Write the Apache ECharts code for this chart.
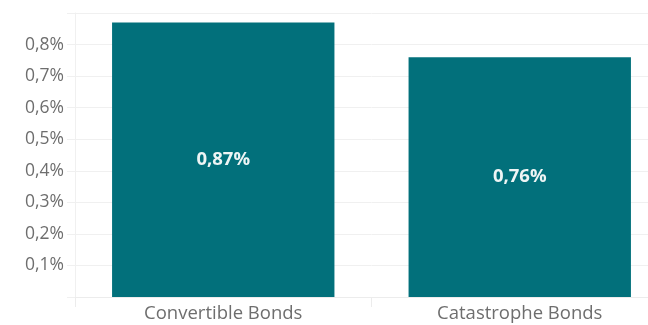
<!DOCTYPE html>
<html>
<head>
<meta charset="utf-8">
<script src="https://cdn.jsdelivr.net/npm/echarts@6/dist/echarts.min.js"></script>
<style>
html,body{margin:0;padding:0;background:#fff;overflow:hidden;width:648px;height:325px;}
#c{width:668px;height:325px;}
</style>
</head>
<body>
<div id="c"></div>
<script>
const categories = ["Convertible Bonds", "Catastrophe Bonds"];
const values = [0.87, 0.76];
const yMin = 0, yMax = 0.9, yStep = 0.1;

const fmt = v => v.toFixed(2).replace('.', ',') + '%';
const chart = echarts.init(document.getElementById('c'));
chart.setOption({
  animation: false,
  grid: {left: 75, right: 0, top: 13, bottom: 28, containLabel: false},
  xAxis: {
    type: 'category',
    data: categories,
    axisLine: {show: true, lineStyle: {color: '#ececec'}},
    axisTick: {show: true, length: 10, lineStyle: {color: '#ececec'}},
    axisLabel: {color: '#6e6e6e', fontFamily: 'Open Sans', fontSize: 18.5, margin: 7}
  },
  yAxis: {
    type: 'value',
    min: yMin, max: yMax, interval: yStep,
    axisLine: {show: true, lineStyle: {color: '#f0f0f0'}},
    axisTick: {show: true, length: 8, lineStyle: {color: '#f0f0f0'}},
    splitLine: {show: true, lineStyle: {color: '#f0f0f0'}},
    axisLabel: {
      color: '#6e6e6e', fontFamily: 'Open Sans', fontSize: 17.5, margin: 11,
      formatter: v => (v <= 0.0001 || v >= 0.8999) ? '' : (Math.round(v * 10) / 10).toFixed(1).replace('.', ',') + '%'
    }
  },
  series: [{
    type: 'bar',
    data: values,
    barWidth: '75%',
    itemStyle: {color: '#02707B'},
    label: {
      show: true, position: 'inside',
      color: '#eef5f5', fontFamily: 'Open Sans', fontWeight: 'bold', fontSize: 18.5,
      formatter: p => fmt(p.value)
    }
  }]
});
</script>
</body>
</html>
